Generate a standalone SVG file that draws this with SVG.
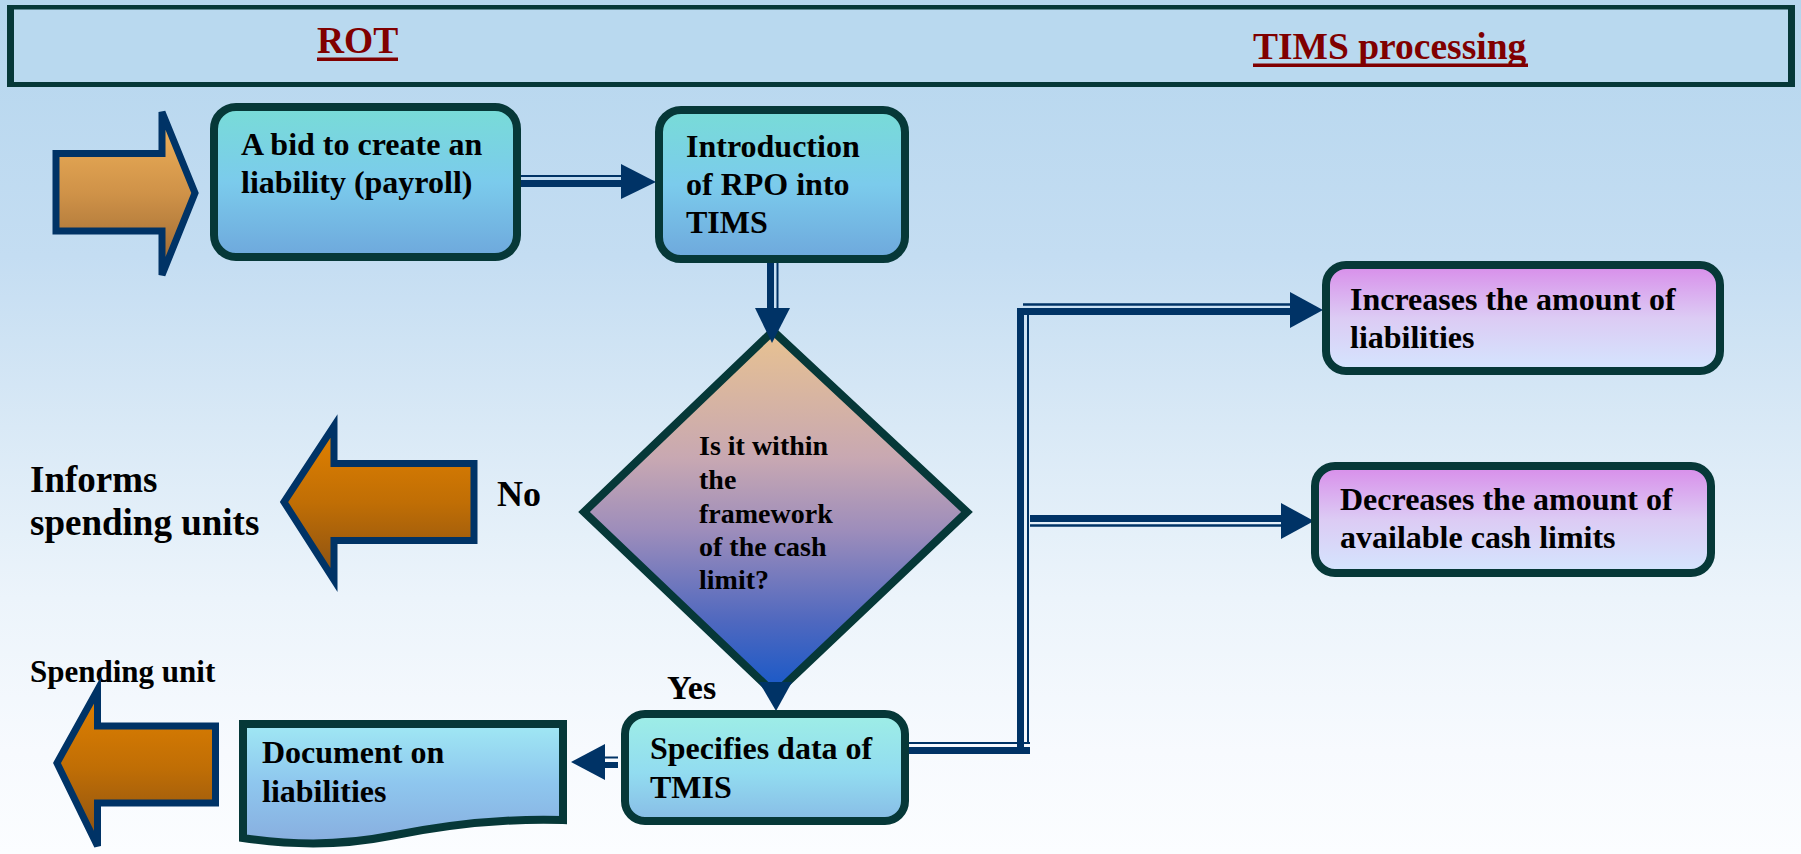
<svg xmlns="http://www.w3.org/2000/svg" width="1801" height="854" viewBox="0 0 1801 854">
  <defs>
    <linearGradient id="bg" x1="0" y1="0" x2="0" y2="1">
      <stop offset="0" stop-color="#b5d6ee"/>
      <stop offset="0.3" stop-color="#c4ddf2"/>
      <stop offset="0.5" stop-color="#d9e9f6"/>
      <stop offset="0.7" stop-color="#ecf4fb"/>
      <stop offset="0.88" stop-color="#f7fafe"/>
      <stop offset="1" stop-color="#fbfdff"/>
    </linearGradient>
    <linearGradient id="gBlue" x1="0" y1="0" x2="0" y2="1">
      <stop offset="0" stop-color="#78dcd7"/>
      <stop offset="0.5" stop-color="#7bcbec"/>
      <stop offset="1" stop-color="#6ea8dc"/>
    </linearGradient>
    <linearGradient id="gAqua" x1="0" y1="0" x2="0" y2="1">
      <stop offset="0" stop-color="#9eeee6"/>
      <stop offset="0.55" stop-color="#92dcf0"/>
      <stop offset="1" stop-color="#88bce6"/>
    </linearGradient>
    <linearGradient id="gDoc" x1="0" y1="0" x2="0" y2="1">
      <stop offset="0" stop-color="#a0e8f4"/>
      <stop offset="0.5" stop-color="#8ec6ee"/>
      <stop offset="1" stop-color="#88aedf"/>
    </linearGradient>
    <linearGradient id="gPink" x1="0" y1="0" x2="0" y2="1">
      <stop offset="0" stop-color="#d88dea"/>
      <stop offset="0.5" stop-color="#dccbf4"/>
      <stop offset="1" stop-color="#d4e6fe"/>
    </linearGradient>
    <linearGradient id="gDiamond" x1="0" y1="0" x2="0" y2="1">
      <stop offset="0" stop-color="#e8c290"/>
      <stop offset="0.35" stop-color="#c8a8b2"/>
      <stop offset="0.55" stop-color="#9d8dbb"/>
      <stop offset="0.8" stop-color="#4f68bf"/>
      <stop offset="1" stop-color="#1558c8"/>
    </linearGradient>
    <linearGradient id="gTan" x1="0" y1="0" x2="0" y2="1">
      <stop offset="0" stop-color="#f3b55c"/>
      <stop offset="0.5" stop-color="#cf9248"/>
      <stop offset="1" stop-color="#986530"/>
    </linearGradient>
    <linearGradient id="gOrange" x1="0" y1="0" x2="0" y2="1">
      <stop offset="0" stop-color="#e38200"/>
      <stop offset="0.5" stop-color="#c06e05"/>
      <stop offset="1" stop-color="#885014"/>
    </linearGradient>
  </defs>
  <style>
    .box { stroke: #063838; stroke-width: 8; }
    .blk { stroke: #003366; stroke-width: 7; stroke-linejoin: miter; }
    .t { font-family: "Liberation Serif", "Times New Roman", serif; font-weight: bold; fill: #000; }
    .hd { font-family: "Liberation Serif", "Times New Roman", serif; font-weight: bold; fill: #800000; font-size: 37.5px; }
    .thick { stroke: #003366; fill: none; }
    .head { fill: #003366; }
  </style>

  <!-- backdrop -->
  <rect x="0" y="0" width="1801" height="854" fill="url(#bg)"/>

  <!-- header band -->
  <g id="header">
    <rect x="7" y="5" width="1788" height="82" fill="#063838"/>
    <rect x="14" y="9.5" width="1774" height="72.5" fill="#b9d9ef"/>
    <text class="hd" x="317" y="53">ROT</text>
    <rect x="317" y="57.5" width="81" height="3.5" fill="#800000"/>
    <text class="hd" x="1253" y="59">TIMS processing</text>
    <rect x="1253" y="63.5" width="275" height="3.5" fill="#800000"/>
  </g>

  <!-- connectors (double lines: one thin, one thick) -->
  <g id="connectors">
    <!-- bid -> introduction -->
    <line class="thick" x1="517" y1="176" x2="622" y2="176" stroke-width="2"/>
    <line class="thick" x1="517" y1="183.5" x2="622" y2="183.5" stroke-width="7"/>
    <polygon class="head" points="621,164 656,182 621,199"/>
    <!-- introduction -> decision -->
    <line class="thick" x1="770.5" y1="259" x2="770.5" y2="310" stroke-width="7"/>
    <line class="thick" x1="777.5" y1="259" x2="777.5" y2="310" stroke-width="2"/>
    <!-- decision -> specifies (Yes) -->
    <line class="thick" x1="773.5" y1="650" x2="773.5" y2="684" stroke-width="7"/>
    <line class="thick" x1="781.5" y1="650" x2="781.5" y2="684" stroke-width="2.5"/>
    <!-- specifies -> document -->
    <line class="thick" x1="604" y1="757.5" x2="618" y2="757.5" stroke-width="2"/>
    <line class="thick" x1="604" y1="765" x2="618" y2="765" stroke-width="6"/>
    <polygon class="head" points="605,744 571,762 605,780"/>
    <!-- specifies -> right branch -->
    <line class="thick" x1="905" y1="743" x2="1030" y2="743" stroke-width="2"/>
    <line class="thick" x1="905" y1="750.5" x2="1030" y2="750.5" stroke-width="7"/>
    <line class="thick" x1="1020.5" y1="308" x2="1020.5" y2="754" stroke-width="7"/>
    <line class="thick" x1="1028" y1="311" x2="1028" y2="744" stroke-width="2"/>
    <!-- branch -> increases -->
    <line class="thick" x1="1023" y1="304.5" x2="1292" y2="304.5" stroke-width="2.5"/>
    <line class="thick" x1="1017" y1="311.5" x2="1292" y2="311.5" stroke-width="7"/>
    <polygon class="head" points="1290,292 1323,310 1290,328"/>
    <!-- branch -> decreases -->
    <line class="thick" x1="1030" y1="518.5" x2="1283" y2="518.5" stroke-width="7"/>
    <line class="thick" x1="1030" y1="525.5" x2="1283" y2="525.5" stroke-width="2.5"/>
    <polygon class="head" points="1281,503 1314,521 1281,539"/>
  </g>

  <!-- incoming arrow -->
  <g id="input-arrow">
    <polygon class="blk" fill="url(#gTan)" points="56,153.5 162,153.5 162,112 195,193 162,275 162,231 56,231"/>
  </g>

  <g id="bid">
    <rect class="box" x="214" y="107" width="303" height="150" rx="22" fill="url(#gBlue)"/>
    <text class="t" font-size="32" x="241" y="155">A bid to create an</text>
    <text class="t" font-size="32" x="241" y="193">liability (payroll)</text>
  </g>

  <g id="introduction">
    <rect class="box" x="659" y="110" width="246" height="149" rx="22" fill="url(#gBlue)"/>
    <text class="t" font-size="32" x="686" y="157">Introduction</text>
    <text class="t" font-size="32" x="686" y="195">of RPO into</text>
    <text class="t" font-size="32" x="686" y="233">TIMS</text>
  </g>

  <g id="decision">
    <polygon class="box" fill="url(#gDiamond)" points="773,331 967,512 775,694 584,512"/>
    <text class="t" font-size="28" x="699" y="455">Is it within</text>
    <text class="t" font-size="28" x="699" y="489">the</text>
    <text class="t" font-size="28" x="699" y="523">framework</text>
    <text class="t" font-size="28" x="699" y="556">of the cash</text>
    <text class="t" font-size="28" x="699" y="589">limit?</text>
  </g>

  <!-- arrowheads drawn over the decision outline -->
  <g id="decision-heads">
    <polygon class="head" points="755,308 790,308 772,343"/>
    <polygon class="head" points="759,682 792,682 776,711"/>
  </g>

  <g id="no-branch">
    <text class="t" font-size="36" x="497" y="506">No</text>
    <polygon class="blk" fill="url(#gOrange)" points="284,502 334,426 334,463.5 474,463.5 474,540.5 334,540.5 334,580"/>
    <text class="t" font-size="37" x="30" y="492">Informs</text>
    <text class="t" font-size="37" x="30" y="535">spending units</text>
  </g>

  <g id="yes-label">
    <text class="t" font-size="34" x="667" y="699">Yes</text>
  </g>

  <g id="specifies">
    <rect class="box" x="625" y="714" width="280" height="107" rx="20" fill="url(#gAqua)"/>
    <text class="t" font-size="32" x="650" y="759">Specifies data of</text>
    <text class="t" font-size="32" x="650" y="798">TMIS</text>
  </g>

  <g id="document">
    <path class="box" fill="url(#gDoc)" d="M243,724 H563 V820 C500,818 440,826 390,836 C340,846 290,845 243,838 Z"/>
    <text class="t" font-size="32" x="262" y="763">Document on</text>
    <text class="t" font-size="32" x="262" y="802">liabilities</text>
  </g>

  <g id="spending-unit">
    <text class="t" font-size="31" x="30" y="682">Spending unit</text>
    <polygon class="blk" fill="url(#gOrange)" points="57,763 97.5,690 97.5,726 215.5,726 215.5,803 97.5,803 97.5,846"/>
  </g>

  <g id="increases">
    <rect class="box" x="1326" y="265" width="394" height="106" rx="20" fill="url(#gPink)"/>
    <text class="t" font-size="32" x="1350" y="310">Increases the amount of</text>
    <text class="t" font-size="32" x="1350" y="348">liabilities</text>
  </g>

  <g id="decreases">
    <rect class="box" x="1315" y="466" width="396" height="107" rx="20" fill="url(#gPink)"/>
    <text class="t" font-size="32" x="1340" y="510">Decreases the amount of</text>
    <text class="t" font-size="32" x="1340" y="548">available cash limits</text>
  </g>
</svg>
